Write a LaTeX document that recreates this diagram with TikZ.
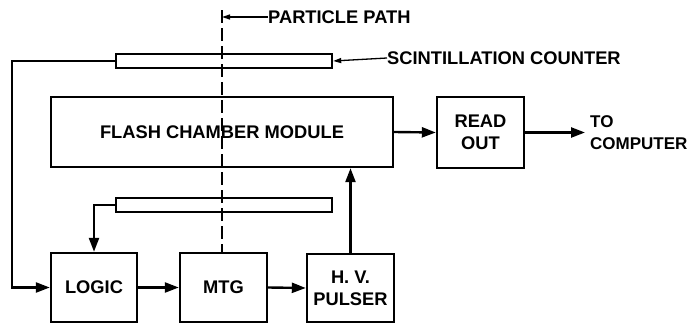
\documentclass[tikz,border=0pt]{standalone}
\usepackage{fontspec}
\setmainfont{Liberation Sans}
\usepackage{tikz}
\usetikzlibrary{arrows.meta,positioning,calc}

\begin{document}
\begin{tikzpicture}[
  x=1pt,y=-1pt,
  font=\fontsize{18.3}{22}\selectfont\bfseries,
  every node/.style={align=center},
  unit/.style={draw,line width=2.4pt,inner sep=0pt,minimum width=87pt,minimum height=69pt},
  counter/.style={draw,line width=2.4pt,inner sep=0pt,minimum width=216pt,minimum height=14pt},
  lbl/.style={inner sep=0pt,anchor=west,align=left},
  arr/.style={-{Triangle[length=14pt,width=10pt]},line width=2.4pt},
  pointer/.style={-{Triangle[length=8pt,width=5pt]},line width=1.3pt},
  path/.style={line width=2.2pt,dash pattern=on 13pt off 5pt}
]
\useasboundingbox (0,0) rectangle (691,324);

% counters and chamber
\node[counter] (ctop)    at (224,61)    {};
\node[unit,minimum width=342pt,minimum height=70pt] (fcm) at (222,132) {FLASH CHAMBER MODULE};
\node[unit,minimum height=71pt] (readout) at (480.5,132.5) {READ\\OUT};
\node[counter] (cbot)    at (224,205)   {};

% electronics
\node[unit,minimum width=86pt] (logic)  at (94,287.5)  {LOGIC};
\node[unit] (mtg)    at (223.5,287.5) {MTG};
\node[unit,minimum height=68pt] (pulser) at (350.5,288) {H. V.\\PULSER};

% labels
\node[lbl] (plabel) at (268,17)  {PARTICLE PATH};
\node[lbl] (slabel) at (387,58)  {SCINTILLATION COUNTER};
\node[lbl,font=\fontsize{17}{22}\selectfont\bfseries] (tocomp) at (590,133) {TO\\COMPUTER};

% particle path
\coordinate (ptop) at (222,10);
\draw[path] (ptop) -- (ptop |- mtg.north);
\draw[pointer] (plabel.west) -- (ptop |- plabel.west);
\draw[pointer] (slabel.west) -- (ctop.east);

% signal connections
\coordinate (lft) at (12,61);
\draw[arr] (ctop.west) -- (lft) |- (logic.west);
\draw[arr] (cbot.west) -| (logic.north);
\draw[arr] (logic.east) -- (mtg.west);
\draw[arr] (mtg.east) -- (pulser.west);
\draw[arr] (pulser.north) -- (pulser.north |- fcm.south);
\draw[arr] (fcm.east) -- (readout.west);
\coordinate (out) at (585,132.5);
\draw[arr] (readout.east) -- (out);
\end{tikzpicture}
\end{document}
